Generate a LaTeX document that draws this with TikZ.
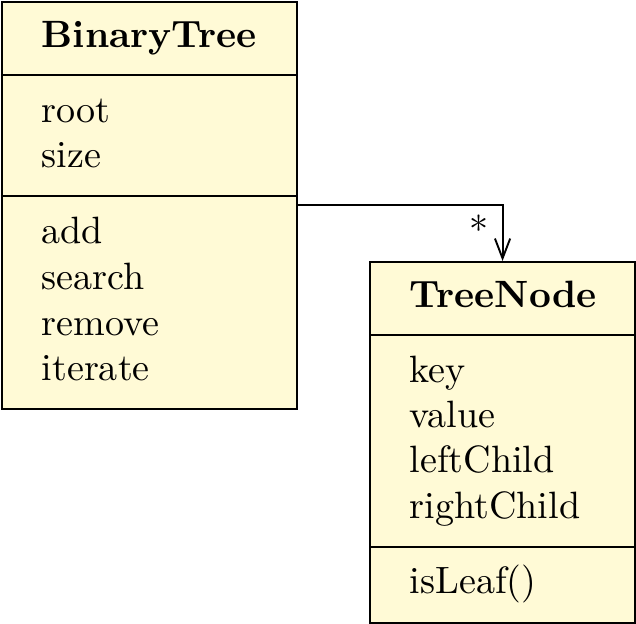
\documentclass[tikz,border=0pt]{standalone}
\usetikzlibrary{arrows.meta}
\definecolor{umlfill}{RGB}{255,250,214}
\begin{document}
\begin{tikzpicture}[x=0.2626pt,y=-0.2626pt,
  umlbox/.style={draw=black,line width=0.55pt,fill=umlfill,rectangle,inner sep=0pt,anchor=north west},
  umltext/.style={anchor=base west,inner sep=0pt,font=\fontsize{10}{12}\selectfont},
  umltitle/.style={umltext,font=\fontsize{10}{12}\selectfont\bfseries},
  divider/.style={line width=0.55pt},
  assoc/.style={line width=0.5pt,-{Straight Barb[length=5.2pt,width=4pt,line width=0.5pt]}}]
\useasboundingbox (0,0) rectangle (636,623);
% BinaryTree
\node[umlbox,minimum width=295*0.2626pt,minimum height=407*0.2626pt] (bt) at (1,1) {};
\draw[divider] (bt.west |- {(0,75)}) -- (bt.east |- {(0,75)});
\draw[divider] (bt.west |- {(0,196)}) -- (bt.east |- {(0,196)});
\node[umltitle] (btname) at (41,48) {BinaryTree};
\node[umltext] (btroot) at (41,123) {root};
\node[umltext] (btsize) at (41,168) {size};
\node[umltext] (btadd) at (41,243) {add};
\node[umltext] (btsearch) at (41,289) {search};
\node[umltext] (btremove) at (41,335) {remove};
\node[umltext] (btiterate) at (41,380) {iterate};
% TreeNode
\node[umlbox,minimum width=265*0.2626pt,minimum height=361*0.2626pt] (tn) at (369,261) {};
\draw[divider] (tn.west |- {(0,335)}) -- (tn.east |- {(0,335)});
\draw[divider] (tn.west |- {(0,547)}) -- (tn.east |- {(0,547)});
\node[umltitle] (tnname) at (409,307) {TreeNode};
\node[umltext] (tnkey) at (409,382) {key};
\node[umltext] (tnvalue) at (409,427) {value};
\node[umltext] (tnleft) at (409,472) {leftChild};
\node[umltext] (tnright) at (409,518) {rightChild};
\node[umltext] (tnleaf) at (409,593) {isLeaf()};
% association
\coordinate (src) at (bt.east |- {(0,205)});
\draw[assoc] (src) -| (tn.north);
\node[umltext,anchor=center] (mult) at (479,229) {*};
\end{tikzpicture}
\end{document}
